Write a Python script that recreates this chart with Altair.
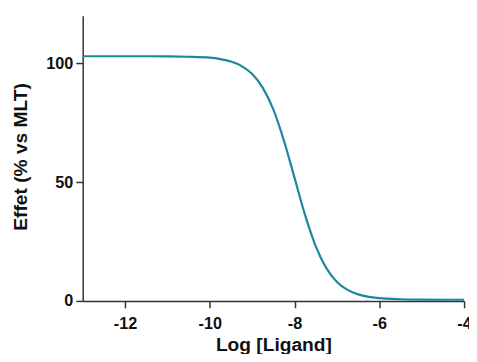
import altair as alt
import pandas as pd

log_ligand = [-13.0, -12.0, -11.0, -10.5, -10.0, -9.75, -9.5, -9.25, -9.0, -8.75,
              -8.5, -8.25, -8.0, -7.75, -7.5, -7.25, -7.0, -6.75, -6.5, -6.25,
              -6.0, -5.5, -5.0, -4.5, -4.0]
effet = [103.0, 103.0, 102.95, 102.8, 102.4, 101.8, 100.75, 98.85, 95.5, 89.7,
         80.5, 67.4, 51.8, 36.0, 23.0, 13.8, 8.0, 4.65, 2.75, 1.7,
         1.15, 0.7, 0.55, 0.5, 0.5]

x_ticks = [-12, -10, -8, -6, -4]
y_ticks = [0, 50, 100]

df = pd.DataFrame({"x": log_ligand, "y": effet})

FONT = "Liberation Sans"
HYPHEN = "datum.value < 0 ? '-' + abs(datum.value) : '' + datum.value"

chart = alt.Chart(df).mark_line(
    color="#1a87a0", strokeWidth=2.2, interpolate="monotone"
).encode(
    x=alt.X("x:Q", scale=alt.Scale(domain=[-13, -4], nice=False, zero=False),
            axis=alt.Axis(values=x_ticks, title="Log [Ligand]", grid=False,
                          tickSize=7, labelPadding=21, labelBaseline="alphabetic",
                          titleBaseline="alphabetic", titleY=50,
                          labelFontSize=16.5, titleFontSize=19.5,
                          labelExpr=HYPHEN,
                          labelFlush=False, labelOverlap=False)),
    y=alt.Y("y:Q", scale=alt.Scale(domain=[0, 120], nice=False),
            axis=alt.Axis(values=y_ticks, title="Effet (% vs MLT)", grid=False,
                          tickSize=7, labelPadding=3,
                          titleBaseline="alphabetic", titleX=-57, titleY=143,
                          titleAngle=270,
                          labelFontSize=16.5, titleFontSize=19.5)),
).properties(
    width=388, height=290,
    autosize=alt.AutoSizeParams(type="none"),
    padding={"left": 76, "top": 5, "right": 5, "bottom": 51},
).configure_axis(
    domainColor="#333333", tickColor="#333333", domainWidth=1.5, tickWidth=1.5,
    labelColor="#111111", titleColor="#111111",
    labelFont=FONT, titleFont=FONT, labelFontWeight="bold", titleFontWeight="bold",
).configure_view(stroke=None)

chart.save("out.html", embed_options={"renderer": "svg", "actions": False})
